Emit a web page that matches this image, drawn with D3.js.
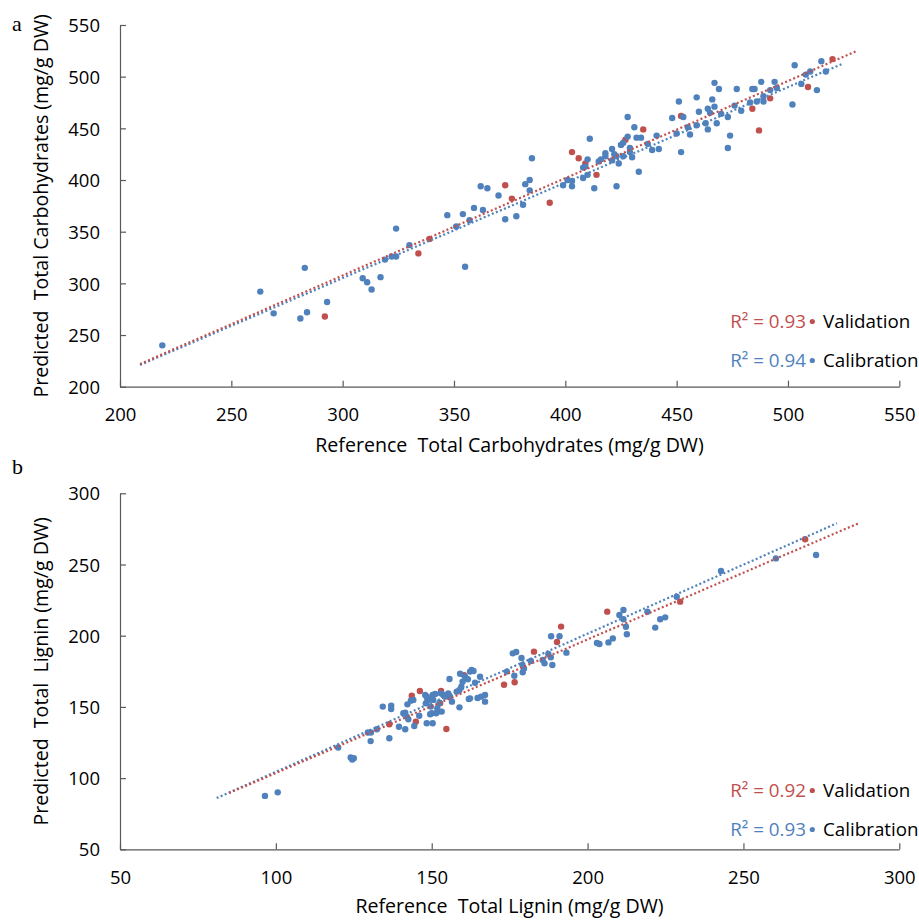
<!DOCTYPE html>
<html><head><meta charset="utf-8">
<script src="https://cdn.jsdelivr.net/npm/d3@7"></script>
<style>body{margin:0;background:#fff}svg{display:block}</style>
</head><body>
<script>
// ---------- DATA ----------
const carbTicks = [200,250,300,350,400,450,500,550];
const ligTicks = [50,100,150,200,250,300];

const carbValidation = [[292,268],[334,329],[339,343],[373,395],[376,382],[393,378],[403,427],[406,421],[409,416],[414,405],[427,439],[435,449],[452,462],[484,469],[487,448],[492,479],[509,490],[520,517]];
const carbCalibration = [[219,240],[263,292],[269,271],[281,266],[283,315],[284,272],[293,282],[309,305],[311,301],[313,294],[317,306],[319,323],[322,326],[324,326],[324,353],[330,337],[347,366],[351,355],[354,367],[355,316],[357,361],[359,373],[362,394],[365,392],[363,371],[370,385],[373,362],[378,365],[381,376],[382,396],[384,400],[384,390],[385,421],[399,395],[401,400],[403,399],[403,394],[408,402],[410,405],[408,412],[409,413],[410,420],[411,440],[413,392],[415,418],[416,420],[418,426],[418,423],[421,430],[422,425],[421,419],[423,423],[424,416],[425,434],[426,436],[426,423],[428,442],[429,431],[429,427],[430,422],[428,461],[431,451],[432,441],[434,441],[433,408],[423,394],[437,435],[439,429],[441,443],[442,430],[448,460],[451,476],[450,445],[452,427],[453,461],[455,451],[456,444],[459,453],[459,480],[460,466],[463,455],[464,449],[464,469],[465,465],[466,478],[467,471],[467,494],[468,455],[469,488],[470,464],[473,431],[473,461],[474,443],[476,472],[477,488],[479,467],[483,475],[484,488],[485,488],[486,476],[488,495],[489,476],[489,481],[492,487],[494,495],[495,489],[502,473],[503,511],[506,493],[508,502],[510,505],[513,487],[515,515],[517,505]];
const carbTrendCal = [[209,221],[525,513]];
const carbTrendVal = [[209,222],[531,525]];
const carbR2 = ["R\u00B2 = 0.93", "R\u00B2 = 0.94"];

const ligValidation = [[136.4,137.8],[143.6,157.9],[144.9,139.6],[146.2,161.2],[153,161.2],[152.7,152.5],[154.7,134.5],[160.4,172.2],[173.2,165.6],[176.6,167.3],[182.8,188.8],[190.2,195.6],[191.5,206.4],[206.3,216.9],[229.7,223.9],[269.8,267.7]];
const ligCalibration = [[96.5,87.5],[100.6,90],[120,121.5],[124,114.5],[124.5,113],[125,114],[129.5,132],[130.5,132],[130.4,126],[132.4,134.3],[134.3,150.2],[136.4,128],[137,150.9],[137,148.5],[139.5,136.1],[141.5,134.3],[140.9,145.5],[141.5,146],[142.2,151.8],[142.5,141.3],[142,143.1],[143.3,154.4],[144.1,154.9],[144.4,136.6],[146,143.8],[147.9,158.4],[148.4,157.2],[148.6,154.4],[148.1,152.5],[149.5,156],[150.3,158.4],[150.5,154.9],[151.1,159.1],[149.7,150.2],[150,145.5],[148.4,138.5],[150.3,138.5],[149.5,144.8],[151.4,145.5],[152.1,146.7],[153.2,146.7],[151.8,149],[152.5,153],[152.9,159.5],[153.7,158.4],[154.3,157.2],[155.3,159.5],[155.9,157.2],[156.5,153.7],[155.7,169.6],[158.9,149.7],[158,160.7],[158.9,161.9],[159.5,164.2],[159.9,167.7],[159.1,173.3],[160.7,171.2],[161.6,169.4],[162.3,174.8],[162.8,175.9],[163.4,175.2],[162.3,156],[161.9,155.6],[163.9,167],[165.5,171.2],[164.7,156.3],[165.8,157.2],[167.1,158.4],[167.1,153.7],[174.1,174.8],[176.5,171.9],[176,187.6],[177.1,188.6],[178.8,184.3],[179.1,179.4],[179.2,174.3],[179.6,176.9],[181.8,182.2],[185.6,182.9],[186.2,180.6],[187.4,187.2],[188.2,184.8],[188.7,179.4],[188.3,199.6],[191,199.6],[193.2,188.1],[203,194.9],[203.8,194.2],[206.7,195.3],[208.1,198.1],[210.2,214.5],[211.5,218],[211.5,211.5],[212.3,206.3],[212.6,201],[219.2,216.9],[221.7,205.7],[223.3,211.5],[224.9,212.9],[228.6,227.4],[242.8,245.5],[260.4,254.3],[273.3,256.7]];
const ligTrendCal = [[81,86],[280,279]];
const ligTrendVal = [[85,89.5],[287,279]];
const ligR2 = ["R\u00B2 = 0.92", "R\u00B2 = 0.93"];

const seriesNames = ["Validation", "Calibration"];
// ---------- STYLE ----------
const RED = "#C0504D", BLUE = "#4F81BD", AXIS = "#595959";
const FONT = "'Open Sans', Lato, sans-serif";
const FS_TICK = 18.5, FS_TITLE = 19.6, FS_LEG = 18.8;

const svg = d3.select("body").append("svg").attr("width", 919).attr("height", 920);

function panel(cfg) {
  const x = d3.scaleLinear().domain(cfg.domain).range([120, 899.3]);
  const y = d3.scaleLinear().domain(cfg.domain).range([cfg.bottom, cfg.top]);
  const g = svg.append("g");

  const ax = g.append("g").attr("transform", `translate(0,${cfg.bottom})`)
    .call(d3.axisBottom(x).tickValues(cfg.ticks).tickSize(-6).tickSizeOuter(0));
  const ay = g.append("g").attr("transform", `translate(120,0)`)
    .call(d3.axisLeft(y).tickValues(cfg.ticks).tickSize(-6).tickSizeOuter(0));
  [ax, ay].forEach(a => {
    a.select(".domain").attr("stroke", AXIS).attr("stroke-width", 1.2);
    a.selectAll(".tick line").attr("stroke", AXIS).attr("stroke-width", 1.2);
    a.selectAll(".tick text").attr("fill", "#000").style("font-family", FONT).style("font-size", FS_TICK + "px");
  });
  ax.selectAll(".tick text").attr("y", 34.5).attr("dy", "0");
  ay.selectAll(".tick text").attr("x", -20).attr("dy", "0.36em");

  const pts = (data, color) => g.append("g").selectAll("circle").data(data).join("circle")
    .attr("cx", d => x(d[0])).attr("cy", d => y(d[1])).attr("r", 3.2).attr("fill", color);
  pts(cfg.val, RED);
  pts(cfg.cal, BLUE);

  const line = d3.line().x(d => x(d[0])).y(d => y(d[1]));
  g.append("path").attr("d", line(cfg.trendCal)).attr("stroke", BLUE).attr("stroke-width", 2.2)
    .attr("stroke-dasharray", "2 2.4").attr("fill", "none");
  g.append("path").attr("d", line(cfg.trendVal)).attr("stroke", RED).attr("stroke-width", 2.2)
    .attr("stroke-dasharray", "2 2.4").attr("fill", "none");

  g.append("text").attr("x", 509.5).attr("y", cfg.xTitleY).attr("text-anchor", "middle")
    .style("font-family", FONT).style("font-size", FS_TITLE + "px").attr("fill", "#000").text(cfg.xTitle);
  g.append("text").attr("transform", `translate(${cfg.yTitleX},${(cfg.top + cfg.bottom) / 2}) rotate(-90)`)
    .attr("text-anchor", "middle").style("font-family", FONT).style("font-size", FS_TITLE + "px").attr("fill", "#000")
    .text(cfg.yTitle);

  g.append("text").attr("x", 12).attr("y", cfg.letterY).style("font-family", "'Liberation Serif', serif")
    .style("font-size", "22px").attr("fill", "#000").text(cfg.letter);

  const rows = [{c: RED, r2: cfg.r2[0], name: seriesNames[0], yb: cfg.legY[0]},
                {c: BLUE, r2: cfg.r2[1], name: seriesNames[1], yb: cfg.legY[1]}];
  rows.forEach(r => {
    g.append("text").attr("x", 806).attr("y", r.yb).attr("text-anchor", "end")
      .style("font-family", FONT).style("font-size", FS_LEG + "px").attr("fill", r.c).text(r.r2);
    g.append("circle").attr("cx", 812.3).attr("cy", r.yb - 6.5).attr("r", 2.6).attr("fill", r.c);
    g.append("text").attr("x", 823).attr("y", r.yb)
      .style("font-family", FONT).style("font-size", FS_LEG + "px").attr("fill", "#000").text(r.name);
  });
}

panel({domain: [200, 550], ticks: carbTicks, top: 25, bottom: 386.7,
  val: carbValidation, cal: carbCalibration, trendCal: carbTrendCal, trendVal: carbTrendVal,
  xTitle: "Reference\u00A0\u00A0Total Carbohydrates (mg/g DW)", xTitleY: 452,
  yTitle: "Predicted\u00A0\u00A0Total Carbohydrates (mg/g DW)", yTitleX: 48,
  letter: "a", letterY: 31, r2: carbR2, legY: [328, 367]});

panel({domain: [50, 300], ticks: ligTicks, top: 493.3, bottom: 849.3,
  val: ligValidation, cal: ligCalibration, trendCal: ligTrendCal, trendVal: ligTrendVal,
  xTitle: "Reference\u00A0\u00A0Total Lignin (mg/g DW)", xTitleY: 913,
  yTitle: "Predicted\u00A0\u00A0Total\u00A0\u00A0Lignin (mg/g DW)", yTitleX: 48,
  letter: "b", letterY: 474, r2: ligR2, legY: [797, 836]});
</script>
</body></html>
